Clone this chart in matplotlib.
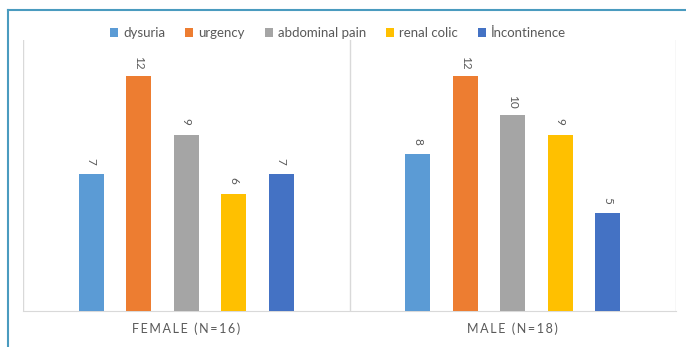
import numpy as np
import matplotlib
matplotlib.use('Agg')
import matplotlib.pyplot as plt
from matplotlib.lines import Line2D

# data
groups = ['FEMALE (N=16)', 'MALE (N=18)']
symptoms = ['dysuria', 'urgency', 'abdominal pain', 'renal colic', 'İncontinence']
female = [7, 12, 9, 6, 7]
male = [8, 12, 10, 9, 5]
colors = ['#5B9BD5', '#ED7D31', '#A5A5A5', '#FFC000', '#4472C4']

plt.rcParams['font.family'] = ['Lato', 'DejaVu Sans']
txtColor = '#595959'

fig = plt.figure(figsize=(6.86, 3.47), dpi=100)
ax = fig.add_axes([23/686, 36/347, (676-23)/686, (311-40)/347])

x = np.arange(len(groups))
step = 0.1455
width = 0.077
values = np.array([female, male])
for i, name in enumerate(symptoms):
    pos = x + (i - 2) * step
    bars = ax.bar(pos, values[:, i], width=width, color=colors[i], label=name, zorder=3)
    for b, v in zip(bars, values[:, i]):
        ax.annotate(str(v), (b.get_x() + b.get_width() / 2, v), xytext=(0, 13),
                    textcoords='offset pixels', ha='center', va='center',
                    rotation=-90, fontsize=8.5, color=txtColor)

ax.set_xlim(-0.5, 1.5)
ax.set_ylim(0, 13.85)
ax.set_yticks([])
ax.set_xticks(x)
# letter spaced labels like the excel chart
spaced = ['\u2009'.join(g) for g in groups]
ax.set_xticklabels(spaced, fontsize=9, color=txtColor)
ax.tick_params(axis='x', length=0, pad=8)
for s in ['top', 'left', 'right']:
    ax.spines[s].set_visible(False)
ax.spines['bottom'].set_color('#d9d9d9')
for g in [-0.5, 0.5, 1.5]:
    ax.axvline(g, color='#d9d9d9', lw=1, zorder=1)

fig.legend(loc='center', bbox_to_anchor=(338/686, 1 - 33/347), ncol=5, frameon=False,
           fontsize=9.5, handlelength=0.6, handleheight=0.6, handletextpad=0.4,
           columnspacing=1.5, labelcolor=txtColor)

# blue frame of the figure
fig.add_artist(Line2D([8/686, 1], [1 - 10/347, 1 - 10/347], color='#4A9BBF', lw=1.5))
fig.add_artist(Line2D([8/686, 8/686], [0, 1 - 10/347], color='#4A9BBF', lw=1.5))

fig.savefig('out.png', dpi=100)
